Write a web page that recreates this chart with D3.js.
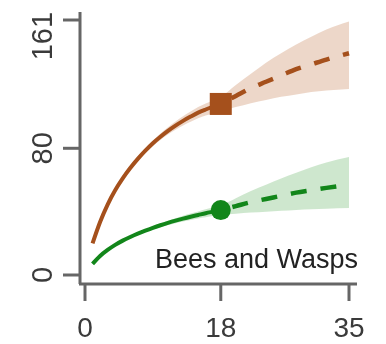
<!DOCTYPE html>
<html>
<head>
<meta charset="utf-8">
<script src="https://cdn.jsdelivr.net/npm/d3@7"></script>
<style>
	html, body { margin: 0; padding: 0; background: #fff; }
	svg { display: block; filter: blur(0.7px); }
</style>
</head>
<body>
<svg id="chart" width="386" height="344"></svg>
<script>
// sample sizes
var tInterp = [1, 2, 3, 4, 5, 6, 7, 8, 9, 10, 11, 12, 13, 14, 15, 16, 17, 18];
var tExtrap = [18, 20, 22, 24, 26, 28, 30, 32, 35];

// brown series (observed at 18, extrapolated to 35)
var brownInterp = [20, 33.5, 44.5, 53.5, 61, 67.5, 73.3, 78.5, 83.2, 87.3, 91, 94.3, 97.3, 100, 102.5, 104.5, 106.3, 108];
var brownInterpLo = [20, 33.3, 44.2, 53, 60.3, 66.6, 72.2, 77.1, 81.5, 85.3, 88.7, 91.7, 94.4, 96.8, 99, 100.7, 102.2, 103.5];
var brownInterpHi = [20, 33.7, 44.8, 54, 61.7, 68.4, 74.4, 79.9, 84.9, 89.3, 93.3, 96.9, 100.2, 103.2, 106, 108.3, 110.4, 112.5];
var brownExtrap = [108, 113, 118, 122, 126, 130, 133, 136, 140];
var brownExtrapLo = [103.5, 106, 108.5, 110.5, 112.5, 114, 115.5, 116.5, 117.5];
var brownExtrapHi = [112.5, 120, 127, 134, 140, 145.5, 150.5, 155, 160];

// green series
var greenInterp = [7, 12, 15.8, 19, 21.7, 24, 26.1, 28, 29.8, 31.4, 32.9, 34.3, 35.6, 36.8, 37.9, 39, 40, 41];
var greenInterpLo = [7, 11.9, 15.6, 18.7, 21.3, 23.5, 25.5, 27.2, 28.8, 30.2, 31.5, 32.7, 33.8, 34.8, 35.7, 36.5, 37.3, 38];
var greenInterpHi = [7, 12.1, 16, 19.3, 22.1, 24.5, 26.7, 28.8, 30.8, 32.6, 34.3, 35.9, 37.4, 38.8, 40.1, 41.5, 42.7, 44];
var greenExtrap = [41, 43.5, 46, 48, 50, 52, 53.5, 55, 57];
var greenExtrapLo = [38, 38.7, 39.4, 40, 40.6, 41.1, 41.5, 41.9, 42.3];
var greenExtrapHi = [44, 48.5, 53, 57, 61, 64.5, 68, 71, 74.5];

var xTicks = [0, 18, 35];
var yTicks = [0, 80, 161];
var panelLabel = 'Bees and Wasps';

var svg = d3.select('#chart');

var xScale = d3.scaleLinear().domain([0, 35]).range([85, 349]);
var yScale = d3.scaleLinear().domain([0, 161]).range([275, 20]);

function zip(ts, vs) {
	return ts.map(function(t, i) { return { t: t, v: vs[i] }; });
}
function zipBand(ts, lo, hi) {
	return ts.map(function(t, i) { return { t: t, lo: lo[i], hi: hi[i] }; });
}

var line = d3.line()
	.x(function(d) { return xScale(d.t); })
	.y(function(d) { return yScale(d.v); })
	.curve(d3.curveMonotoneX);

var area = d3.area()
	.x(function(d) { return xScale(d.t); })
	.y0(function(d) { return yScale(d.lo); })
	.y1(function(d) { return yScale(d.hi); })
	.curve(d3.curveMonotoneX);

var series = [
	{ color: '#a5501c', fill: 'rgba(190,110,60,0.28)', interp: brownInterp, lo: brownInterpLo, hi: brownInterpHi,
		extrap: brownExtrap, elo: brownExtrapLo, ehi: brownExtrapHi, shape: 'square' },
	{ color: '#12861a', fill: 'rgba(60,160,60,0.25)', interp: greenInterp, lo: greenInterpLo, hi: greenInterpHi,
		extrap: greenExtrap, elo: greenExtrapLo, ehi: greenExtrapHi, shape: 'circle' }
];

// bands
series.forEach(function(s) {
	var band = zipBand(tInterp, s.lo, s.hi).concat(zipBand(tExtrap.slice(1), s.elo.slice(1), s.ehi.slice(1)));
	svg.append('path')
		.attr('d', area(band))
		.attr('fill', s.fill);
});

// lines
series.forEach(function(s) {
	svg.append('path')
		.attr('d', line(zip(tInterp, s.interp)))
		.attr('fill', 'none')
		.attr('stroke', s.color)
		.attr('stroke-width', 4);
	svg.append('path')
		.attr('d', line(zip(tExtrap, s.extrap)))
		.attr('fill', 'none')
		.attr('stroke', s.color)
		.attr('stroke-width', 4.5)
		.attr('stroke-dasharray', '16,14')
		.attr('stroke-dashoffset', -12);

	var last = s.interp.length - 1;
	var cx = xScale(tInterp[last]), cy = yScale(s.interp[last]);
	if (s.shape === 'square') {
		svg.append('rect')
			.attr('x', cx - 11).attr('y', cy - 11)
			.attr('width', 22).attr('height', 22)
			.attr('fill', s.color);
	} else {
		svg.append('circle')
			.attr('cx', cx).attr('cy', cy).attr('r', 10)
			.attr('fill', s.color);
	}
});

// axes
var axisColor = '#666';
var yAxis = svg.append('g');
yAxis.append('line')
	.attr('x1', 80).attr('x2', 80)
	.attr('y1', 12).attr('y2', 284)
	.attr('stroke', axisColor).attr('stroke-width', 3);
yTicks.forEach(function(v) {
	var y = yScale(v);
	yAxis.append('line')
		.attr('x1', 63).attr('x2', 80)
		.attr('y1', y).attr('y2', y)
		.attr('stroke', axisColor).attr('stroke-width', 3);
	var label = String(v);
	var half = label.length * 0.556 * 29 / 2;
	var cy = Math.max(y, 12 + half);
	yAxis.append('text')
		.attr('transform', 'translate(52,' + cy + ') rotate(-90)')
		.attr('text-anchor', 'middle')
		.attr('font-family', 'Liberation Sans, Arial, sans-serif')
		.attr('font-size', 29)
		.attr('fill', '#3a3a3a')
		.text(label);
});

var xAxis = svg.append('g');
xAxis.append('line')
	.attr('x1', 79).attr('x2', 357)
	.attr('y1', 284).attr('y2', 284)
	.attr('stroke', axisColor).attr('stroke-width', 3);
xTicks.forEach(function(v) {
	var x = xScale(v);
	xAxis.append('line')
		.attr('x1', x).attr('x2', x)
		.attr('y1', 284).attr('y2', 301)
		.attr('stroke', axisColor).attr('stroke-width', 3);
	xAxis.append('text')
		.attr('x', x).attr('y', 337)
		.attr('text-anchor', 'middle')
		.attr('font-family', 'Liberation Sans, Arial, sans-serif')
		.attr('font-size', 28)
		.attr('fill', '#3a3a3a')
		.text(v);
});

svg.append('text')
	.attr('x', 358).attr('y', 268)
	.attr('text-anchor', 'end')
	.attr('font-family', 'Liberation Sans, Arial, sans-serif')
	.attr('font-size', 27)
	.attr('fill', '#222')
	.text(panelLabel);
</script>
</body>
</html>
